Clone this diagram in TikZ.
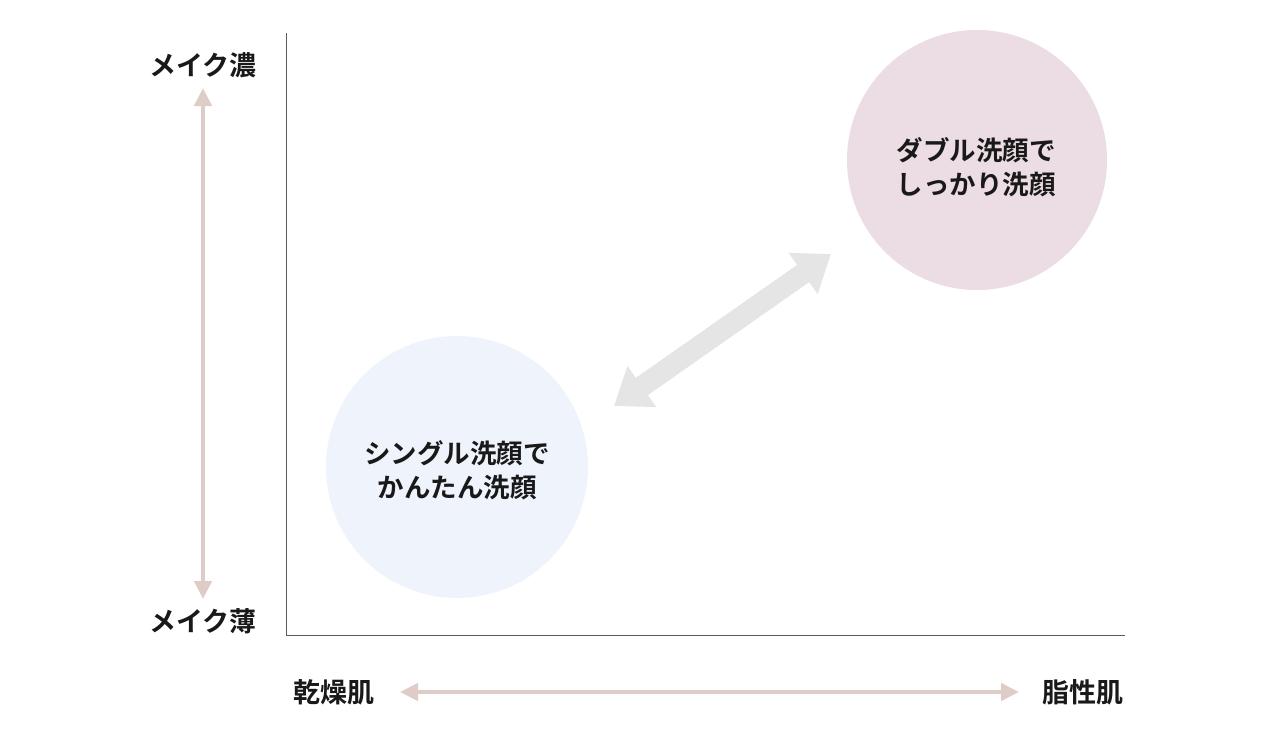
\documentclass[tikz,border=0pt]{standalone}
\usepackage{fontspec}
\newfontfamily\cjk{Noto Sans CJK JP}[BoldFont={Noto Sans CJK JP Bold}]
\usetikzlibrary{arrows.meta}
\definecolor{axisgray}{RGB}{90,90,90}
\definecolor{beige}{RGB}{222,204,198}
\definecolor{pinkc}{RGB}{235,221,227}
\definecolor{bluec}{RGB}{239,244,252}
\definecolor{lgray}{RGB}{229,229,229}
\definecolor{ink}{RGB}{25,25,25}
\tikzset{
  lbl/.style={font=\cjk\bfseries\fontsize{27}{30}\selectfont, text=ink, inner sep=0pt},
  ctext/.style={font=\cjk\bfseries\fontsize{26.5}{34}\selectfont, text=ink, align=center, inner sep=0pt},
  axisline/.style={draw=axisgray, line width=1pt},
  beigearrow/.style={draw=beige, line width=4.5pt, {Triangle[width=17pt,length=18pt]}-{Triangle[width=17pt,length=18pt]}},
  grayarrow/.style={draw=lgray, line width=21pt, {Triangle[width=48pt,length=34pt]}-{Triangle[width=48pt,length=34pt]}},
}
\begin{document}
\begin{tikzpicture}[x=1pt,y=-1pt]
\useasboundingbox[fill=white] (0,0) rectangle (1280,742);
% circles
\node[circle, fill=pinkc, minimum size=260pt, inner sep=0pt] (big) at (977,160) {};
\node[circle, fill=bluec, minimum size=262pt, inner sep=0pt] (small) at (457,467) {};
\node[ctext] (bigt) at (976,167) {ダブル洗顔で\\しっかり洗顔};
\node[ctext] (smallt) at (457,470) {シングル洗顔で\\かんたん洗顔};
% axes
\coordinate (otop) at (286,33);
\coordinate (orig) at (286,635);
\coordinate (oright) at (1125,635);
\draw[axisline] (otop) -- (orig) -- (oright);
% labels
\node[lbl] (dense) at (203,65) {メイク濃};
\node[lbl] (light) at (203,621) {メイク薄};
\node[lbl] (dry) at (334,692) {乾燥肌};
\node[lbl] (oily) at (1083,692) {脂性肌};
% beige arrows
\coordinate (vt) at (203,88);
\coordinate (vb) at (203,599);
\draw[beigearrow] (vt) -- (vb);
\coordinate (hl) at (400,692);
\coordinate (hr) at (1019,692);
\draw[beigearrow] (hl) -- (hr);
% diagonal arrow
\coordinate (da) at (614,406);
\coordinate (db) at (831,254);
\draw[grayarrow] (da) -- (db);
\end{tikzpicture}
\end{document}
